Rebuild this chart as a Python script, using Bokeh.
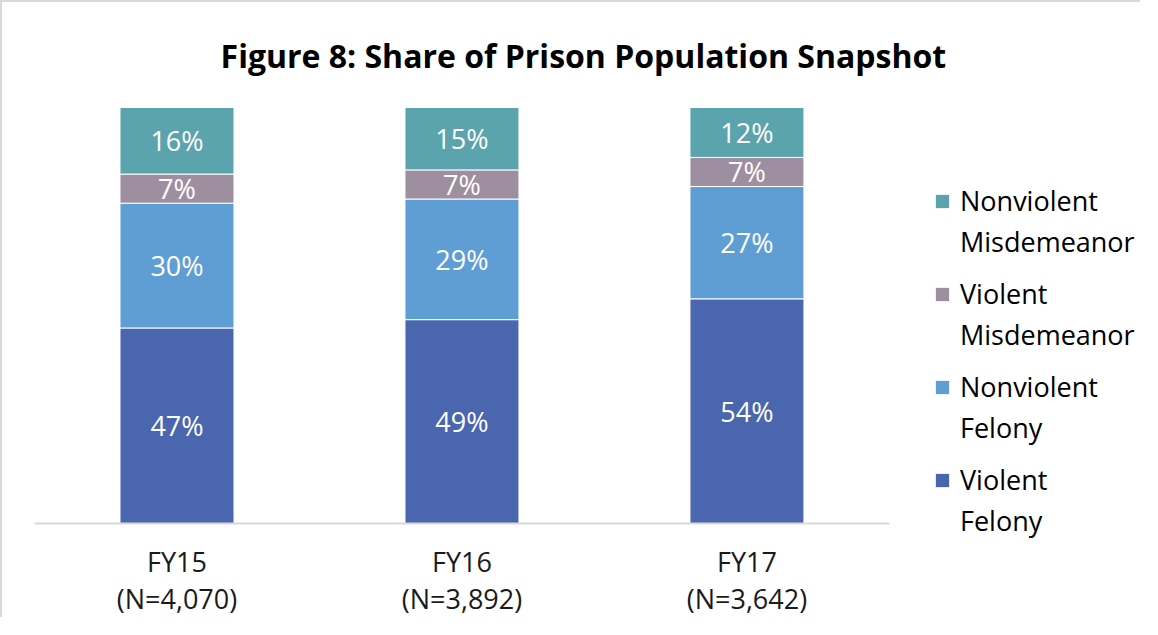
import numpy as np
from bokeh.plotting import figure
from bokeh.models import (ColumnDataSource, Legend, LegendItem, Range1d, Label,
                          FixedTicker)
from bokeh.core.properties import value
from bokeh.embed import file_html
from bokeh.resources import INLINE

# ---- data ----
years = ["FY15", "FY16", "FY17"]
sample_sizes = ["(N=4,070)", "(N=3,892)", "(N=3,642)"]
series_keys = ["vf", "nvf", "vm", "nvm"]
legend_labels = ["Violent Felony", "Nonviolent Felony", "Violent Misdemeanor", "Nonviolent Misdemeanor"]
violent_felony = [47, 49, 54]
nonviolent_felony = [30, 29, 27]
violent_misdemeanor = [7, 7, 7]
nonviolent_misdemeanor = [16, 15, 12]
colors = ["#4A66AE", "#5F9ED4", "#9E8FA0", "#5BA3AD"]
title_text = "Figure 8: Share of Prison Population Snapshot"

FONT = "Open Sans"

values = [violent_felony, nonviolent_felony, violent_misdemeanor, nonviolent_misdemeanor]
xpos = [i + 0.5 for i in range(len(years))]
data = {"x": xpos}
for k, v in zip(series_keys, values):
    data[k] = v
source = ColumnDataSource(data)

p = figure(
    x_range=Range1d(-0.1123, 3.888),
    y_range=Range1d(-23.08, 125.24),
    width=1140, height=617,
    output_backend="svg", toolbar_location=None,
    min_border_left=0, min_border_right=0,
    min_border_top=0, min_border_bottom=0,
)
p.styles = {"border-top": "2px solid #d9d9d9", "border-left": "2px solid #d9d9d9"}
p.outline_line_color = None
p.xgrid.visible = False
p.ygrid.visible = False
p.yaxis.visible = False

renderers = p.vbar_stack(series_keys, x="x", width=0.4, color=colors,
                         line_color="white", line_width=1, source=source)

# data labels
lx, ly, lt = [], [], []
bottoms = np.zeros(len(years))
for v in values:
    arr = np.array(v, dtype=float)
    for i in range(len(years)):
        lx.append(xpos[i])
        ly.append(bottoms[i] + arr[i] / 2)
        lt.append(f"{v[i]}%")
    bottoms += arr
p.text(x=lx, y=ly, text=lt, text_color="white", text_font=value(FONT),
       text_font_size="27px", text_align="center", text_baseline="middle")

# x axis (baseline at 0)
ax = p.xaxis[0]
ax.fixed_location = 0
ax.ticker = FixedTicker(ticks=xpos, minor_ticks=[])
ax.major_label_overrides = {x: f"{y}\n{n}" for x, y, n in zip(xpos, years, sample_sizes)}
ax.bounds = (0, len(years))
ax.axis_line_color = "#d9d9d9"
ax.axis_line_width = 2
ax.major_tick_line_color = None
ax.minor_tick_line_color = None
ax.major_label_text_font = FONT
ax.major_label_text_font_size = "27px"
ax.major_label_text_color = "#1a1a1a"
ax.major_label_standoff = 14
ax.major_label_text_line_height = 1.0

# title
p.add_layout(Label(x=1.926, y=112.5, text=title_text, text_font=FONT,
                   text_font_size="32px", text_font_style="bold",
                   text_align="center", text_baseline="middle", text_color="black"))

# legend: first line with swatch, second line beneath it
first_words = [lab.split(" ", 1)[0] for lab in legend_labels]
second_words = [lab.split(" ", 1)[1] for lab in legend_labels]
order = list(reversed(range(4)))
blank = p.scatter(x=[], y=[], fill_alpha=0, line_alpha=0)
common = dict(padding=0, margin=0, border_line_color=None, background_fill_alpha=0,
              label_text_font=FONT, label_text_font_size="27px",
              label_text_color="black", spacing=56, label_height=37,
              glyph_width=18, glyph_height=18, label_standoff=9)
legend1 = Legend(items=[LegendItem(label=first_words[i], renderers=[renderers[i]]) for i in order],
                 location=(931, 121), **common)
legend2 = Legend(items=[LegendItem(label=second_words[i], renderers=[blank]) for i in order],
                 location=(931, 80), **common)
p.add_layout(legend1, "center")
p.add_layout(legend2, "center")

open("out.html", "w").write(file_html(p, INLINE))
